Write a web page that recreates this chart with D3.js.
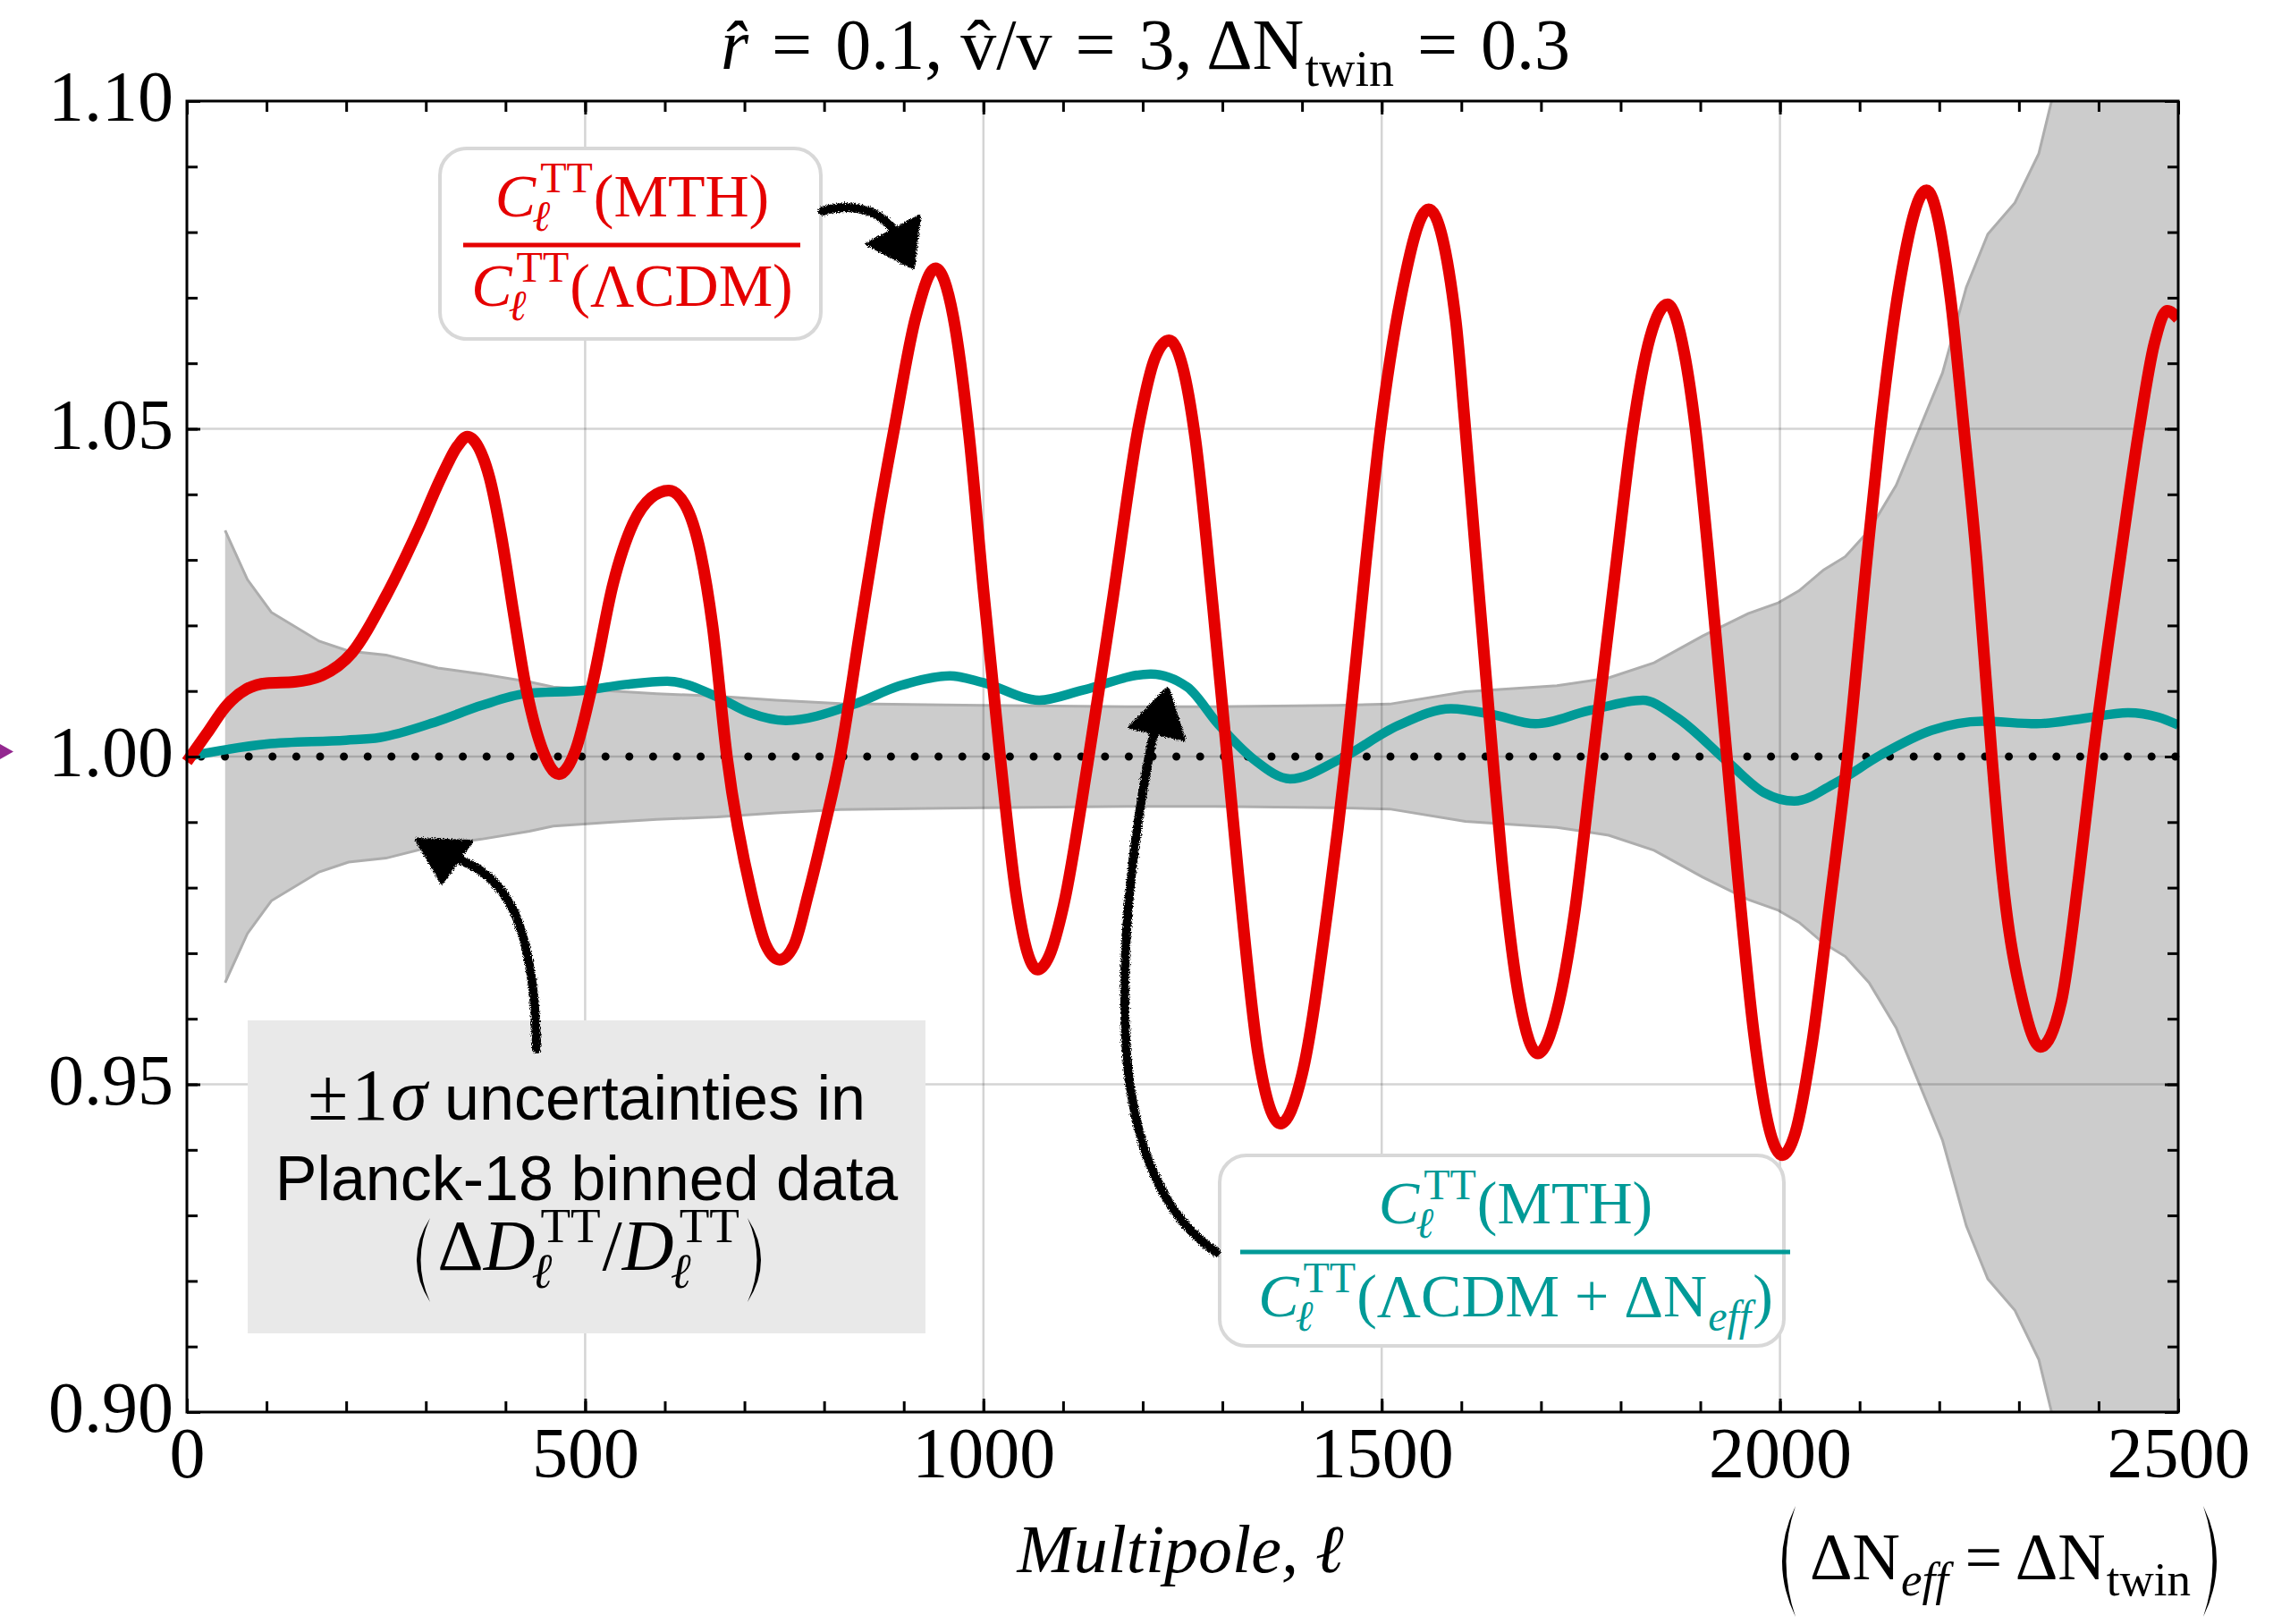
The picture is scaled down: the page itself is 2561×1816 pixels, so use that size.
<!DOCTYPE html>
<html><head><meta charset="utf-8">
<script src="https://cdn.jsdelivr.net/npm/d3@7"></script>
<style>html,body{margin:0;padding:0;background:#fff} text{white-space:pre}</style>
</head><body>
<svg id="chart" width="2561" height="1816" xmlns="http://www.w3.org/2000/svg"></svg>
<script>
// ---- ratio C_l^TT(MTH) / C_l^TT(LCDM) ----
const redL = [0, 25, 50, 75, 100, 135, 170, 207, 250, 290, 320, 340, 352, 366, 380, 395, 410, 425, 445, 467, 488, 510, 535, 560, 583, 605, 625, 645, 660, 678, 709, 727, 744, 762, 780, 800, 820, 846, 868, 888, 915, 940, 962, 982, 1000, 1021, 1041, 1055, 1068, 1083, 1101, 1131, 1163, 1195, 1215, 1233, 1250, 1266, 1288, 1306, 1320, 1345, 1373, 1400, 1433, 1456, 1480, 1498, 1524, 1559, 1593, 1604, 1618, 1639, 1651, 1673, 1696, 1720, 1742, 1764, 1795, 1815, 1837, 1859, 1880, 1894, 1910, 1933, 1947, 1967, 1987, 2003, 2019, 2040, 2063, 2085, 2109, 2126, 2150, 2184, 2214, 2231, 2247, 2266, 2279, 2305, 2327, 2353, 2375, 2393, 2427, 2451, 2470, 2486, 2500];
const redV = [0.9992, 1.0035, 1.0078, 1.0103, 1.0112, 1.0114, 1.0124, 1.0158, 1.0245, 1.0345, 1.0428, 1.0474, 1.0488, 1.0472, 1.0425, 1.0335, 1.0220, 1.0110, 1.0015, 0.9973, 1.0010, 1.0115, 1.0263, 1.0355, 1.0395, 1.0406, 1.0385, 1.0310, 1.0199, 1.0000, 0.9790, 0.9712, 0.9690, 0.9712, 0.9790, 0.9890, 1.0000, 1.0199, 1.0365, 1.0500, 1.0670, 1.0745, 1.0672, 1.0490, 1.0255, 1.0000, 0.9790, 0.9702, 0.9675, 0.9697, 0.9775, 0.9990, 1.0245, 1.0505, 1.0607, 1.0635, 1.0595, 1.0485, 1.0230, 1.0000, 0.9820, 0.9545, 0.9440, 0.9515, 0.9775, 1.0005, 1.0295, 1.0495, 1.0700, 1.0835, 1.0665, 1.0515, 1.0310, 1.0005, 0.9840, 0.9628, 0.9547, 0.9612, 0.9760, 0.9985, 1.0300, 1.0498, 1.0640, 1.0690, 1.0615, 1.0500, 1.0310, 1.0005, 0.9818, 0.9580, 0.9430, 0.9392, 0.9425, 0.9560, 0.9780, 1.0000, 1.0300, 1.0500, 1.0720, 1.0864, 1.0700, 1.0500, 1.0300, 1.0000, 0.9820, 0.9625, 0.9557, 0.9625, 0.9815, 1.0000, 1.0300, 1.0500, 1.0630, 1.0680, 1.0668];

// ---- ratio C_l^TT(MTH) / C_l^TT(LCDM + dNeff) ----
const tealL = [0, 100, 200, 242, 315, 370, 425, 498, 551, 603, 666, 706, 752, 838, 895, 958, 999, 1070, 1124, 1210, 1256, 1295, 1340, 1385, 1449, 1520, 1587, 1640, 1693, 1760, 1828, 1870, 1936, 1980, 2018, 2070, 2126, 2190, 2254, 2322, 2380, 2437, 2475, 2500];
const tealV = [1.0000, 1.0019, 1.0025, 1.0029, 1.0054, 1.0078, 1.0096, 1.0101, 1.0110, 1.0115, 1.0091, 1.0067, 1.0055, 1.0080, 1.0108, 1.0123, 1.0113, 1.0086, 1.0101, 1.0126, 1.0106, 1.0049, 0.9995, 0.9966, 0.9997, 1.0047, 1.0073, 1.0064, 1.0050, 1.0070, 1.0086, 1.0060, 0.9990, 0.9945, 0.9932, 0.9960, 1.0002, 1.0040, 1.0054, 1.0050, 1.0058, 1.0067, 1.0060, 1.0048];

// ---- Planck-18 binned TT relative 1-sigma uncertainty ----
const bandL = [48, 76, 106, 166, 203, 250, 315, 370, 430, 460, 535, 590, 666, 740, 820, 998, 1181, 1290, 1445, 1510, 1605, 1720, 1785, 1842, 1903, 1960, 1997, 2024, 2055, 2082, 2112, 2146, 2204, 2234, 2261, 2295, 2325, 2341, 2380, 2440, 2500];
const bandSigma = [0.0345, 0.0270, 0.0220, 0.0176, 0.0161, 0.0155, 0.0135, 0.0126, 0.0114, 0.0106, 0.0100, 0.0096, 0.0092, 0.0086, 0.0081, 0.0078, 0.0076, 0.0076, 0.0078, 0.0080, 0.0099, 0.0108, 0.0120, 0.0143, 0.0184, 0.0218, 0.0234, 0.0253, 0.0285, 0.0305, 0.0345, 0.0414, 0.0585, 0.0716, 0.0797, 0.0845, 0.0920, 0.1000, 0.1150, 0.1350, 0.1550];

// ---- axes ----
const xMajor = [0, 500, 1000, 1500, 2000, 2500];
const xMinor = d3.range(0, 2501, 100);
const yMajor = [0.90, 0.95, 1.00, 1.05, 1.10];
const yMinor = d3.range(90, 111).map(v => v / 100);
const yLabels = ["0.90", "0.95", "1.00", "1.05", "1.10"];
const xGrid = [500, 1000, 1500, 2000];
const yGrid = [0.95, 1.00, 1.05];

const SERIF = "'Liberation Serif', 'Times New Roman', serif";
const SANS = "'Liberation Sans', Arial, sans-serif";
const RED = "#e50000", TEAL = "#009a97";

const L = 209, R = 2436, T = 113, B = 1579;
const x = d3.scaleLinear().domain([0, 2500]).range([L, R]);
const y = d3.scaleLinear().domain([0.90, 1.10]).range([B, T]);

const svg = d3.select("#chart");
svg.append("rect").attr("width", 2561).attr("height", 1816).attr("fill", "#fff");

const defs = svg.append("defs");
defs.append("clipPath").attr("id", "plotClip").append("rect")
  .attr("x", L).attr("y", T).attr("width", R - L).attr("height", B - T);
defs.append("clipPath").attr("id", "lineClip").append("rect")
  .attr("x", L - 8).attr("y", T).attr("width", R - L + 8).attr("height", B - T);
const rough = defs.append("filter").attr("id", "rough")
  .attr("x", "-20%").attr("y", "-20%").attr("width", "140%").attr("height", "140%");
rough.append("feTurbulence").attr("type", "fractalNoise").attr("baseFrequency", 0.9)
  .attr("numOctaves", 2).attr("seed", 4).attr("result", "noise");
rough.append("feDisplacementMap").attr("in", "SourceGraphic").attr("in2", "noise")
  .attr("scale", 6).attr("xChannelSelector", "R").attr("yChannelSelector", "G");

// ---- uncertainty band ----
const band = bandL.map((l, i) => ({ l, s: bandSigma[i] }));
const plot = svg.append("g").attr("clip-path", "url(#plotClip)");
plot.append("path").datum(band)
  .attr("d", d3.area().x(d => x(d.l)).y0(d => y(1 - d.s)).y1(d => y(1 + d.s)))
  .attr("fill", "#cccccc");
[1, -1].forEach(sgn => {
  plot.append("path").datum(band)
    .attr("d", d3.line().x(d => x(d.l)).y(d => y(1 + sgn * d.s)))
    .attr("fill", "none").attr("stroke", "#adadad").attr("stroke-width", 3);
});

// ---- grid ----
const grid = svg.append("g").attr("stroke", "rgba(0,0,0,0.17)").attr("stroke-width", 2.5);
grid.selectAll(".gx").data(xGrid).join("line")
  .attr("x1", d => x(d)).attr("x2", d => x(d)).attr("y1", T).attr("y2", B);
grid.selectAll(".gy").data(yGrid).join("line")
  .attr("y1", d => y(d)).attr("y2", d => y(d)).attr("x1", L).attr("x2", R);

// dotted reference line at unity
svg.append("line")
  .attr("x1", 225).attr("x2", R).attr("y1", y(1)).attr("y2", y(1))
  .attr("stroke", "#000").attr("stroke-width", 9).attr("stroke-linecap", "round")
  .attr("stroke-dasharray", "0 26.6");

// ---- curves ----
const curve = d3.line().x(d => x(d[0])).y(d => y(d[1])).curve(d3.curveMonotoneX);
const lines = svg.append("g").attr("clip-path", "url(#lineClip)");
lines.append("path").datum(tealL.map((l, i) => [l, tealV[i]]))
  .attr("d", curve).attr("fill", "none").attr("stroke", TEAL).attr("stroke-width", 10.5)
  .attr("stroke-linejoin", "round");
lines.append("path").datum(redL.map((l, i) => [l, redV[i]]))
  .attr("d", curve).attr("fill", "none").attr("stroke", RED).attr("stroke-width", 13)
  .attr("stroke-linejoin", "round");

// ---- frame and ticks ----
function styleAxis(g) {
  g.select(".domain").remove();
  g.selectAll(".tick line").attr("stroke", "#000").attr("stroke-width", 3);
  g.selectAll("text").attr("font-family", SERIF).attr("font-size", 80).attr("fill", "#000");
}
svg.append("g").attr("transform", `translate(0,${B})`)
  .call(d3.axisBottom(x).tickValues(xMinor).tickSizeInner(-12).tickSizeOuter(0).tickFormat(""))
  .call(styleAxis);
svg.append("g").attr("transform", `translate(0,${B})`)
  .call(d3.axisBottom(x).tickValues(xMajor).tickSizeInner(-15).tickSizeOuter(0).tickFormat(d3.format("d")))
  .call(styleAxis)
  .call(g => g.selectAll("text").attr("y", 73).attr("dy", null));
svg.append("g").attr("transform", `translate(0,${T})`)
  .call(d3.axisTop(x).tickValues(xMinor).tickSizeInner(-12).tickSizeOuter(0).tickFormat(""))
  .call(styleAxis);
svg.append("g").attr("transform", `translate(0,${T})`)
  .call(d3.axisTop(x).tickValues(xMajor).tickSizeInner(-15).tickSizeOuter(0).tickFormat(""))
  .call(styleAxis);
svg.append("g").attr("transform", `translate(${L},0)`)
  .call(d3.axisLeft(y).tickValues(yMinor).tickSizeInner(-12).tickSizeOuter(0).tickFormat(""))
  .call(styleAxis);
svg.append("g").attr("transform", `translate(${L},0)`)
  .call(d3.axisLeft(y).tickValues(yMajor).tickSizeInner(-15).tickSizeOuter(0)
    .tickFormat((d, i) => yLabels[i]))
  .call(styleAxis)
  .call(g => g.selectAll("text").attr("x", -15).attr("dy", "0.27em"));
svg.append("g").attr("transform", `translate(${R},0)`)
  .call(d3.axisRight(y).tickValues(yMinor).tickSizeInner(-12).tickSizeOuter(0).tickFormat(""))
  .call(styleAxis);
svg.append("g").attr("transform", `translate(${R},0)`)
  .call(d3.axisRight(y).tickValues(yMajor).tickSizeInner(-15).tickSizeOuter(0).tickFormat(""))
  .call(styleAxis);
svg.append("rect").attr("x", L).attr("y", T).attr("width", R - L).attr("height", B - T)
  .attr("fill", "none").attr("stroke", "#000").attr("stroke-width", 3);

// ---- text helpers: horizontal run of pieces, with stacked sub/superscripts ----
function mathText(g, pieces, cx, by, fill, anchor) {
  const items = pieces.map(p => {
    const t = g.append("text")
      .attr("xml:space", "preserve")
      .attr("font-family", p.sans ? SANS : SERIF)
      .attr("font-size", p.fs)
      .attr("font-style", p.it ? "italic" : "normal")
      .attr("fill", fill)
      .attr("y", by + (p.dy || 0))
      .text(p.t);
    return { p, t, w: t.node().getComputedTextLength() };
  });
  let cursor = 0, start = 0, maxw = 0;
  items.forEach(it => {
    const dx = it.p.dx || 0;
    if (it.p.stack) {
      it.x = start + dx; maxw = Math.max(maxw, it.w + dx); cursor = start + maxw;
    } else {
      start = cursor + dx; it.x = start; maxw = it.w; cursor = start + it.w;
    }
  });
  const x0 = anchor === "start" ? cx : cx - cursor / 2;
  items.forEach(it => it.t.attr("x", x0 + it.x));
  return { x0, width: cursor };
}
function paren(g, xEnd, top, bot, dir) {
  const mid = (top + bot) / 2, b = 15, th = 4.5;
  g.append("path")
    .attr("d", `M${xEnd},${top} Q${xEnd + dir * 2 * b},${mid} ${xEnd},${bot} Q${xEnd + dir * 2 * (b - th)},${mid} ${xEnd},${top} Z`)
    .attr("fill", "#000");
}
const ann = svg.append("g");

// title
mathText(ann, [
  { t: "r\u0302", it: true, fs: 80 },
  { t: "=", fs: 80, dx: 26 },
  { t: "0.1, v\u0302/v", fs: 80, dx: 26 },
  { t: "=", fs: 80, dx: 26 },
  { t: "3, \u0394N", fs: 80, dx: 26 },
  { t: "twin", fs: 56, dy: 19, dx: 1 },
  { t: "=", fs: 80, dx: 26 },
  { t: "0.3", fs: 80, dx: 26 }
], 1281, 77, "#000");

// x label
ann.append("text").attr("x", 1320).attr("y", 1758).attr("text-anchor", "middle")
  .attr("font-family", SERIF).attr("font-style", "italic").attr("font-size", 76)
  .text("Multipole, \u2113");

// (dNeff = dNtwin)
mathText(ann, [
  { t: "\u0394N", fs: 74 },
  { t: "eff", it: true, fs: 53, dy: 18, dx: 1 },
  { t: " = \u0394N", fs: 74 },
  { t: "twin", fs: 53, dy: 18, dx: 1 }
], 2237, 1766, "#000");
paren(ann, 2008, 1684, 1808, -1);
paren(ann, 2464, 1684, 1808, 1);

// marker on the unity level
ann.append("path").attr("d", "M0,832 L15,840.5 L0,849 Z").attr("fill", "#93278f");

// ---- red label box ----
ann.append("rect").attr("x", 492).attr("y", 166).attr("width", 426).attr("height", 213)
  .attr("rx", 30).attr("fill", "#fff").attr("stroke", "#d8d8d8").attr("stroke-width", 4);
const cl = (fs, s) => [
  { t: "C", it: true, fs },
  { t: "TT", fs: s, dy: -27, dx: 5 },
  { t: "\u2113", it: true, fs: s, dy: 16, stack: true, dx: -9 }
];
mathText(ann, [...cl(68, 48), { t: "(MTH)", fs: 68, dx: 1 }], 707, 242, RED);
ann.append("rect").attr("x", 518).attr("y", 271.5).attr("width", 377).attr("height", 5).attr("fill", RED);
mathText(ann, [...cl(68, 48), { t: "(\u039BCDM)", fs: 68, dx: 1 }], 707, 342, RED);

// ---- teal label box ----
ann.append("rect").attr("x", 1364).attr("y", 1292).attr("width", 631).attr("height", 213)
  .attr("rx", 30).attr("fill", "#fff").attr("stroke", "#d8d8d8").attr("stroke-width", 4);
mathText(ann, [...cl(68, 48), { t: "(MTH)", fs: 68, dx: 1 }], 1695, 1368, TEAL);
ann.append("rect").attr("x", 1387).attr("y", 1397.5).attr("width", 615).attr("height", 5).attr("fill", TEAL);
mathText(ann, [...cl(68, 48), { t: "(\u039BCDM + \u0394N", fs: 68, dx: 1 },
  { t: "eff", it: true, fs: 48, dy: 16, dx: 1 }, { t: ")", fs: 68, dx: 2 }], 1695, 1472, TEAL);

// ---- grey uncertainty note ----
ann.append("rect").attr("x", 277).attr("y", 1141).attr("width", 758).attr("height", 350).attr("fill", "#e9e9e9");
mathText(ann, [
  { t: "\u00B1", fs: 82 },
  { t: "1", fs: 82, dx: 4 },
  { t: "\u03C3", it: true, fs: 82, dx: 3 },
  { t: " uncertainties in", sans: true, fs: 70 }
], 656, 1252, "#000");
mathText(ann, [{ t: "Planck-18 binned data", sans: true, fs: 70 }], 656, 1342, "#000");
const dl = () => [
  { t: "D", it: true, fs: 80 },
  { t: "TT", fs: 55, dy: -31, dx: 6 },
  { t: "\u2113", it: true, fs: 55, dy: 20, stack: true, dx: -10 }
];
mathText(ann, [{ t: "\u0394", fs: 80 }, ...dl(), { t: "/", fs: 80, dx: 2 }, ...dl()], 658, 1420, "#000");
paren(ann, 481, 1362, 1456, -1);
paren(ann, 836, 1362, 1456, 1);

// ---- hand-drawn pointers ----
const arrows = svg.append("g").attr("filter", "url(#rough)");
const shafts = [
  "M920,236 C955,226 985,236 1000,258",
  "M600,1173 C599,1110 592,1050 570,1010 C555,985 540,972 515,962",
  "M1360,1400 C1300,1360 1268,1280 1260,1180 C1253,1080 1262,960 1290,820"
];
const heads = [
  "M970,273 L1028,242 L1021,299 Z",
  "M466,939 L527,941 L494,987 Z",
  "M1306,770 L1264,813 L1324,827 Z"
];
shafts.forEach(d => arrows.append("path").attr("d", d).attr("fill", "none")
  .attr("stroke", "#000").attr("stroke-width", 10).attr("stroke-linecap", "round"));
heads.forEach(d => arrows.append("path").attr("d", d).attr("fill", "#000")
  .attr("stroke", "#000").attr("stroke-width", 4).attr("stroke-linejoin", "round"));
</script>
</body></html>
